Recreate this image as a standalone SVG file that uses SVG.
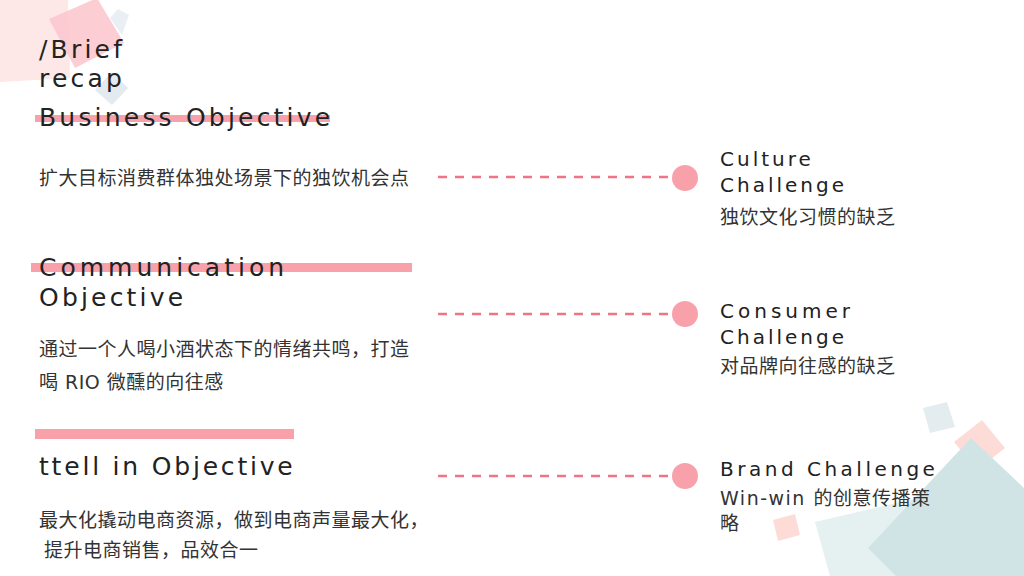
<svg xmlns="http://www.w3.org/2000/svg" width="1024" height="576" viewBox="0 0 1024 576">
<style>
.h{font-family:"DejaVu Sans","Noto Sans CJK SC",sans-serif;font-size:25px;letter-spacing:3.2px;fill:#222}
.h2{font-family:"DejaVu Sans","Noto Sans CJK SC",sans-serif;font-size:20px;letter-spacing:3px;fill:#222}
.b{font-family:"DejaVu Sans","Noto Sans CJK SC",sans-serif;font-size:19px;letter-spacing:0.5px;fill:#333}
.bar{fill:#f8a1aa}
.dash{stroke:#f07485;stroke-width:2.5;stroke-dasharray:9 8;fill:none}
.dot{fill:#f8a1aa}
</style>
<g id="decor">
<polygon points="0,0 68,0 70,78 0,82" fill="#fde7e7"/>
<polygon points="49,19 97,-2 124,43 75,68" fill="#fbc6cd" opacity="0.85"/>
<polygon points="110,18 118,9 129,15 122,35" fill="#e9eff4"/>
<polygon points="95,90 112,72 128,88 112,105" fill="#e3ebf0"/>
<polygon points="923,408 947,402 955,427 930,433" fill="#e3edf0"/>
<polygon points="954,442 982,420 1005,448 977,470" fill="#fddcd8"/>
<polygon points="773,520 795,514 800,535 778,541" fill="#fddcd8"/>
<polygon points="815,522 935,494 975,576 830,576" fill="#e5f0f1"/>
<polygon points="971,438 1024,488 1024,576 896,576 868,548" fill="#d0e4e5"/>
</g>
<g id="title">
<text class="h" x="39" y="58">/Brief</text>
<text class="h" x="39" y="87">recap</text>
</g>
<g id="business">
<rect class="bar" x="35" y="115" width="295" height="7"/>
<text class="h" x="39" y="126">Business Objective</text>
<text class="b" x="39" y="185">扩大目标消费群体独处场景下的独饮机会点</text>
</g>
<g id="communication">
<rect class="bar" x="31" y="263" width="381" height="9"/>
<text class="h" x="39" y="276" style="letter-spacing:4px">Communication</text>
<text class="h" x="39" y="306">Objective</text>
<text class="b" x="39" y="356">通过一个人喝小酒状态下的情绪共鸣，打造</text>
<text class="b" x="39" y="389">喝 RIO 微醺的向往感</text>
</g>
<g id="tellin">
<rect class="bar" x="35" y="429" width="259" height="10"/>
<text class="h" x="39" y="475" style="letter-spacing:2.8px">ttell in Objective</text>
<text class="b" x="39" y="527">最大化撬动电商资源，做到电商声量最大化，</text>
<text class="b" x="44" y="557">提升电商销售，品效合一</text>
</g>
<g id="connectors">
<line class="dash" x1="438" y1="177" x2="668" y2="177"/>
<line class="dash" x1="438" y1="314" x2="668" y2="314"/>
<line class="dash" x1="438" y1="476" x2="668" y2="476"/>
</g>
<g id="culture">
<circle class="dot" cx="685" cy="178" r="13"/>
<text class="h2" x="720" y="166">Culture</text>
<text class="h2" x="720" y="192">Challenge</text>
<text class="b" x="720" y="224">独饮文化习惯的缺乏</text>
</g>
<g id="consumer">
<circle class="dot" cx="685" cy="314" r="13"/>
<text class="h2" x="720" y="318" style="letter-spacing:4px">Consumer</text>
<text class="h2" x="720" y="344">Challenge</text>
<text class="b" x="720" y="373">对品牌向往感的缺乏</text>
</g>
<g id="brand">
<circle class="dot" cx="685" cy="476" r="13"/>
<text class="h2" x="720" y="476" style="letter-spacing:3.5px">Brand Challenge</text>
<text class="b" x="720" y="505"><tspan style="letter-spacing:1.5px">Win-win </tspan>的创意传播策</text>
<text class="b" x="720" y="530">略</text>
</g>
</svg>
